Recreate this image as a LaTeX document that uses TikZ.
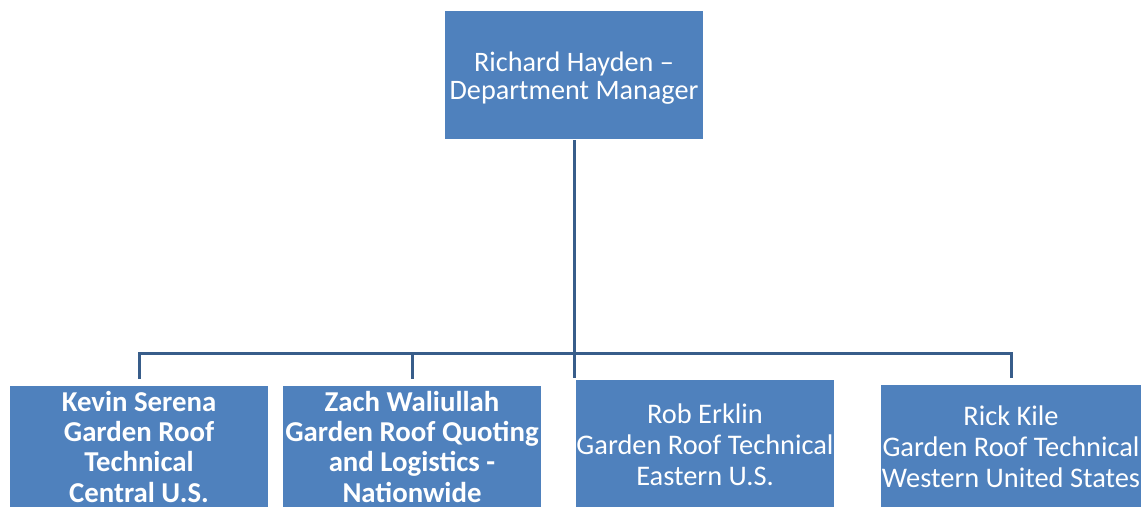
\documentclass[tikz,border=0pt]{standalone}
\usepackage{fontspec}
\setmainfont{Carlito}
\usepackage{tikz}
\usetikzlibrary{calc}

\definecolor{boxblue}{HTML}{4F81BD}
\definecolor{lineblue}{HTML}{385D8A}

\begin{document}
\begin{tikzpicture}[x=1pt, y=-1pt, line width=3pt,
    staff/.style={fill=boxblue, draw=none, text=white, align=center, inner sep=0pt,
        minimum width=258pt, minimum height=122.5pt, anchor=north,
        font=\fontsize{28.4}{31}\selectfont},
    staffbold/.style={staff, font=\bfseries\fontsize{28.8}{30.3}\selectfont},
    boss/.style={staff, minimum width=258pt, minimum height=128pt,
        font=\fontsize{28.2}{28}\selectfont},
    link/.style={draw=lineblue, line width=3pt}]
    % fix the page size
    \useasboundingbox (0, 0) rectangle (1143, 506);
    \clip (0, 0) rectangle (1143, 506);

    % draw manager box
    \node[boss] (hayden) at (574, 9) {\rule{0pt}{27pt}Richard Hayden --\\Department Manager};

    % draw staff boxes
    \node[staffbold] (serena) at (139, 384) {Kevin Serena\\Garden Roof\\Technical\\Central U.S.};
    \node[staffbold] (waliullah) at (412, 384) {Zach Waliullah\\Garden Roof Quoting\\and Logistics -\\Nationwide};
    \node[staff, minimum height=130pt] (erklin) at (705, 378) {Rob Erklin\\Garden Roof Technical\\Eastern U.S.};
    \node[staff, minimum width=260pt, minimum height=125pt] (kile) at (1011, 383) {Rick Kile\\Garden Roof Technical\\Western United States};

    % draw bus line
    \coordinate (bus) at (574, 353);
    \draw[link, shorten <=4pt] (hayden.south) -- (hayden.south |- erklin.north) ++(0, -5);
    \draw[link, shorten <=5pt, shorten >=5pt] (serena.north) -- (serena.north |- bus) -- (kile.north |- bus) -- (kile.north);
    \draw[link, shorten >=5pt] (waliullah.north |- bus) -- (waliullah.north);

\end{tikzpicture}
\end{document}
